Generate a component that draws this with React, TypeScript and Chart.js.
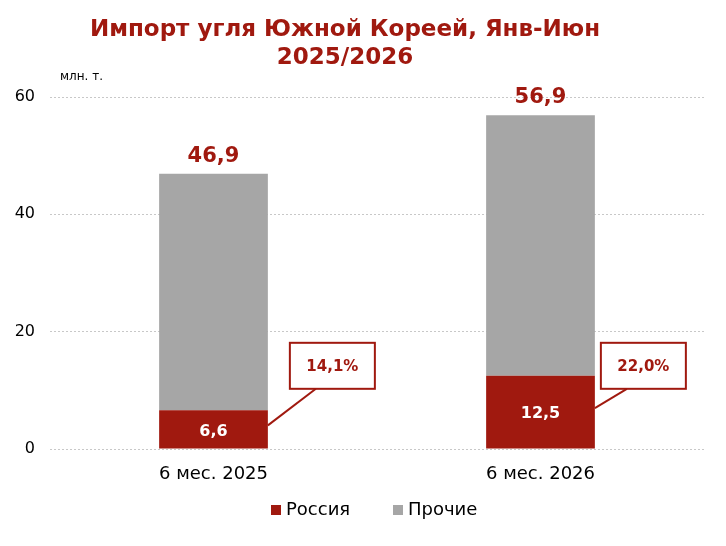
import React, { useEffect, useRef } from "react";
import { Chart, registerables } from "chart.js";

Chart.register(...registerables);

const TITLE_LINES = ["Импорт угля Южной Кореей, Янв-Июн", "2025/2026"];
const UNIT_LABEL = "млн. т.";
const CATEGORIES = ["6 мес. 2025", "6 мес. 2026"];
const SERIES_NAMES = ["Россия", "Прочие"];
const RUSSIA = [6.6, 12.5];
const OTHERS = [40.3, 44.4];
const TOTALS = [46.9, 56.9];
const SHARE_LABELS = ["14,1%", "22,0%"];
const Y_TICKS = [0, 20, 40, 60];

const RED = "#A0190F";
const GRAY = "#A6A6A6";
const FONT = "'DejaVu Sans', Verdana, sans-serif";

const fmt = (v: number) => v.toFixed(1).replace(".", ",");

const overlayPlugin = {
  id: "overlay",
  afterDatasetsDraw(chart: any) {
    const { ctx, scales } = chart;
    const y = scales.y;
    const m0 = chart.getDatasetMeta(0);
    const m1 = chart.getDatasetMeta(1);
    ctx.save();
    // title
    ctx.fillStyle = RED;
    ctx.textAlign = "center";
    ctx.textBaseline = "middle";
    ctx.font = `bold 23px ${FONT}`;
    ctx.fillText(TITLE_LINES[0], 345, 30);
    ctx.fillText(TITLE_LINES[1], 345, 58);
    // unit
    ctx.fillStyle = "#000";
    ctx.font = `12px ${FONT}`;
    ctx.textAlign = "left";
    ctx.fillText(UNIT_LABEL, 60, 77);

    const boxDx = [22, 6];
    m0.data.forEach((bar: any, i: number) => {
      const midY = (bar.y + bar.base) / 2;
      ctx.fillStyle = "#fff";
      ctx.font = `bold 16px ${FONT}`;
      ctx.textAlign = "center";
      ctx.textBaseline = "middle";
      ctx.fillText(fmt(RUSSIA[i]), bar.x, midY + 2);
      // total on top
      const top = m1.data[i];
      ctx.fillStyle = RED;
      ctx.font = `bold 21px ${FONT}`;
      ctx.textBaseline = "alphabetic";
      ctx.fillText(fmt(TOTALS[i]), top.x, top.y - 12);
      // callout
      const right = bar.x + bar.width / 2;
      const bx = right + boxDx[i];
      const by = y.getPixelForValue(18.1);
      const bw = 85;
      const bh = 46;
      ctx.strokeStyle = RED;
      ctx.lineWidth = 2;
      ctx.beginPath();
      ctx.moveTo(right, midY - 4);
      ctx.lineTo(bx + 26, by + bh);
      ctx.stroke();
      ctx.fillStyle = "#fff";
      ctx.fillRect(bx, by, bw, bh);
      ctx.strokeRect(bx, by, bw, bh);
      ctx.fillStyle = RED;
      ctx.font = `bold 15px ${FONT}`;
      ctx.textBaseline = "middle";
      ctx.fillText(SHARE_LABELS[i], bx + bw / 2, by + bh / 2 + 1);
    });

    // legend
    const colors = [RED, GRAY];
    const lx = [271, 393];
    ctx.font = `18px ${FONT}`;
    ctx.textAlign = "left";
    ctx.textBaseline = "middle";
    SERIES_NAMES.forEach((n, i) => {
      ctx.fillStyle = colors[i];
      ctx.fillRect(lx[i], 505, 10, 10);
      ctx.fillStyle = "#000";
      ctx.fillText(n, lx[i] + 15, 510);
    });
    ctx.restore();
  },
};

export default function App() {
  const ref = useRef<HTMLCanvasElement>(null);
  useEffect(() => {
    document.body.style.margin = "0";
    const chart = new Chart(ref.current!, {
      type: "bar",
      data: {
        labels: CATEGORIES,
        datasets: [
          { label: SERIES_NAMES[0], data: RUSSIA, backgroundColor: RED, barPercentage: 0.665, categoryPercentage: 0.5 },
          { label: SERIES_NAMES[1], data: OTHERS, backgroundColor: GRAY, barPercentage: 0.665, categoryPercentage: 0.5 },
        ],
      },
      options: {
        responsive: false,
        animation: false,
        devicePixelRatio: 1,
        layout: { padding: { top: 97, right: 22, bottom: 52, left: 0 } },
        plugins: { legend: { display: false }, title: { display: false }, tooltip: { enabled: false } },
        scales: {
          x: {
            stacked: true,
            grid: { display: false, drawTicks: false },
            border: { display: false },
            ticks: { color: "#000", font: { family: FONT, size: 18 }, padding: 15 },
            afterFit: (s: any) => { s.height = 45; },
          },
          y: {
            stacked: true,
            min: 0,
            max: 60,
            afterBuildTicks: (s: any) => { s.ticks = Y_TICKS.map((v) => ({ value: v })); },
            grid: { color: "#C8C8C8", lineWidth: 1, drawTicks: false },
            border: { display: false, dash: [2, 2] },
            ticks: { color: "#000", font: { family: FONT, size: 16 }, padding: 15 },
            afterFit: (s: any) => { s.width = 50; },
          },
        },
      },
      plugins: [overlayPlugin],
    });
    return () => chart.destroy();
  }, []);
  return (
    <div style={{ width: 726, height: 546 }}>
      <canvas ref={ref} width={726} height={546} />
    </div>
  );
}
